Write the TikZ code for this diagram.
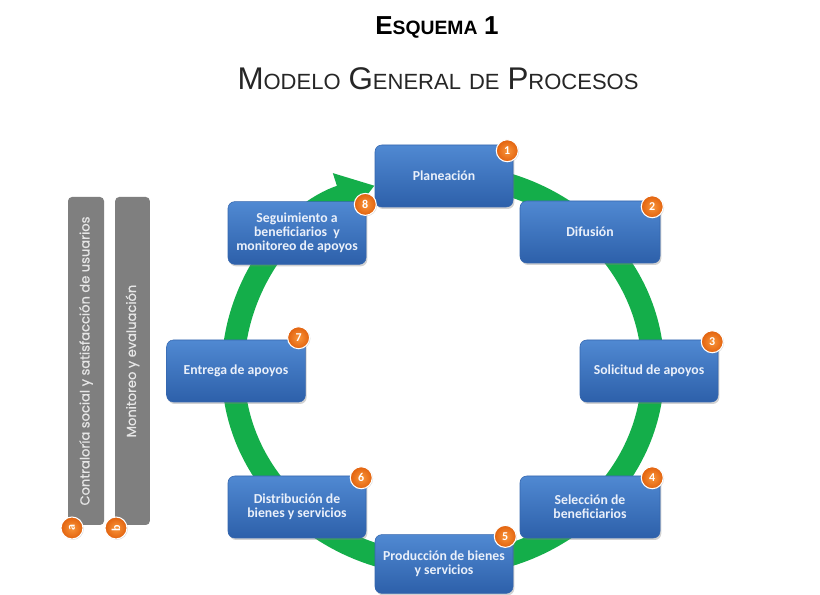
\documentclass[tikz,border=0pt]{standalone}
\usepackage{fontspec}
\setmainfont{Carlito}
\newfontfamily\arialf{Liberation Sans}
\newfontfamily\gothic[FakeBold=0.6]{Poppins}
\usetikzlibrary{arrows.meta,shadows,calc}
\definecolor{ringgreen}{HTML}{14AE4A}
\definecolor{boxtop}{HTML}{5089D2}
\definecolor{boxbot}{HTML}{2D60AA}
\definecolor{boxline}{HTML}{3566AE}
\definecolor{badgeor}{HTML}{E2620E}
\definecolor{badgelt}{HTML}{F9953A}
\definecolor{bargray}{HTML}{7F7F7F}
\definecolor{bartext}{HTML}{E6E6E6}
\definecolor{boxtext}{HTML}{EAF0FA}
\newcommand{\tcapbig}[1]{{\fontsize{23.5}{25}\selectfont #1}}
\newcommand{\tcapsmall}[1]{{\fontsize{16.5}{18}\selectfont #1}}
\newcommand{\tcapsp}{\hspace{6pt}}
\begin{document}
\begin{tikzpicture}[x=0.75pt,y=0.75pt,
  procbox/.style={rounded corners=5pt, minimum width=103.5pt, minimum height=46.5pt,
    top color=boxtop, bottom color=boxbot, draw=boxline, line width=0.4pt,
    text=boxtext, font=\bfseries\fontsize{10.3}{10.5}\selectfont, align=center,
    drop shadow={opacity=0.35, shadow xshift=1pt, shadow yshift=-1.5pt}, inner sep=2pt},
  badge/.style={circle, inner sep=0pt, minimum size=16.5pt, inner color=badgelt,
    outer color=badgeor, draw=white, line width=0.8pt, text=white,
    font=\bfseries\fontsize{9}{9}\selectfont,
    drop shadow={opacity=0.3, shadow xshift=0.6pt, shadow yshift=-0.6pt}},
  sidebar/.style={rotate=90, rounded corners=3pt, fill=bargray, minimum width=246pt,
    text=bartext, font=\gothic\fontsize{9.8}{11}\selectfont, inner sep=1pt},
  ring/.style={ringgreen, line width=17pt}
]
\useasboundingbox (0,0) rectangle (820,595);
\fill[white] (0,0) rectangle (820,595);

% titles
\node[font=\arialf\bfseries, text=black] (t1) at (437,568)
  {\fontsize{19.5}{21}\selectfont E\fontsize{14.5}{16}\selectfont SQUEMA\hspace{5pt}\fontsize{19.5}{21}\selectfont 1};
\node[font=\arialf, text=black!85] (t2) at (438,516)
  {\tcapbig{M}\tcapsmall{ODELO}\tcapsp\tcapbig{G}\tcapsmall{ENERAL}\tcapsp\tcapsmall{DE}\tcapsp\tcapbig{P}\tcapsmall{ROCESOS}};

% ring
\coordinate (ringtop) at (443,420);
\draw[ring, -{Triangle[length=27pt,width=35pt]}] (ringtop)
  arc[start angle=90, end angle=-251, x radius=210, y radius=195];

% side bars
\node[sidebar, minimum height=27pt] (ba) at (86,234) {Contraloría social y satisfacción de usuarios};
\node[sidebar, minimum height=26pt] (bb) at (132.5,234) {Monitoreo y evaluación};
\node[badge, rotate=90] (la) at (72,67) {a};
\node[badge, rotate=90] (lb) at (116,67) {b};

% process boxes
\node[procbox] (p1) at (444,419) {Planeación};
\node[procbox, minimum width=105pt] (p2) at (590,363) {Difusión};
\node[procbox] (p3) at (649,224) {Solicitud de apoyos};
\node[procbox, minimum width=105pt] (p4) at (590,88) {Selección de\\beneficiarios};
\node[procbox, minimum height=44pt] (p5) at (444,31) {Producción de bienes\\y servicios};
\node[procbox] (p6) at (297,88) {Distribución de\\bienes y servicios};
\node[procbox, minimum width=104pt] (p7) at (236,224) {Entrega de apoyos};
\node[procbox, minimum height=47pt] (p8) at (297,362) {Seguimiento a\\beneficiarios\ \ y\\monitoreo de apoyos};

% badges
\node[badge] (n1) at ($(p1.north east)+(-6,-6)$) {1};
\node[badge] (n2) at ($(p2.north east)+(-8,-6)$) {2};
\node[badge] (n3) at ($(p3.north east)+(-6,-2)$) {3};
\node[badge] (n4) at ($(p4.north east)+(-8,-2)$) {4};
\node[badge] (n5) at ($(p5.north east)+(-8,-2)$) {5};
\node[badge] (n6) at ($(p6.north east)+(-5,-2)$) {6};
\node[badge] (n7) at ($(p7.north east)+(-7,2)$) {7};
\node[badge] (n8) at ($(p8.north east)+(-1,-3)$) {8};
\end{tikzpicture}
\end{document}
